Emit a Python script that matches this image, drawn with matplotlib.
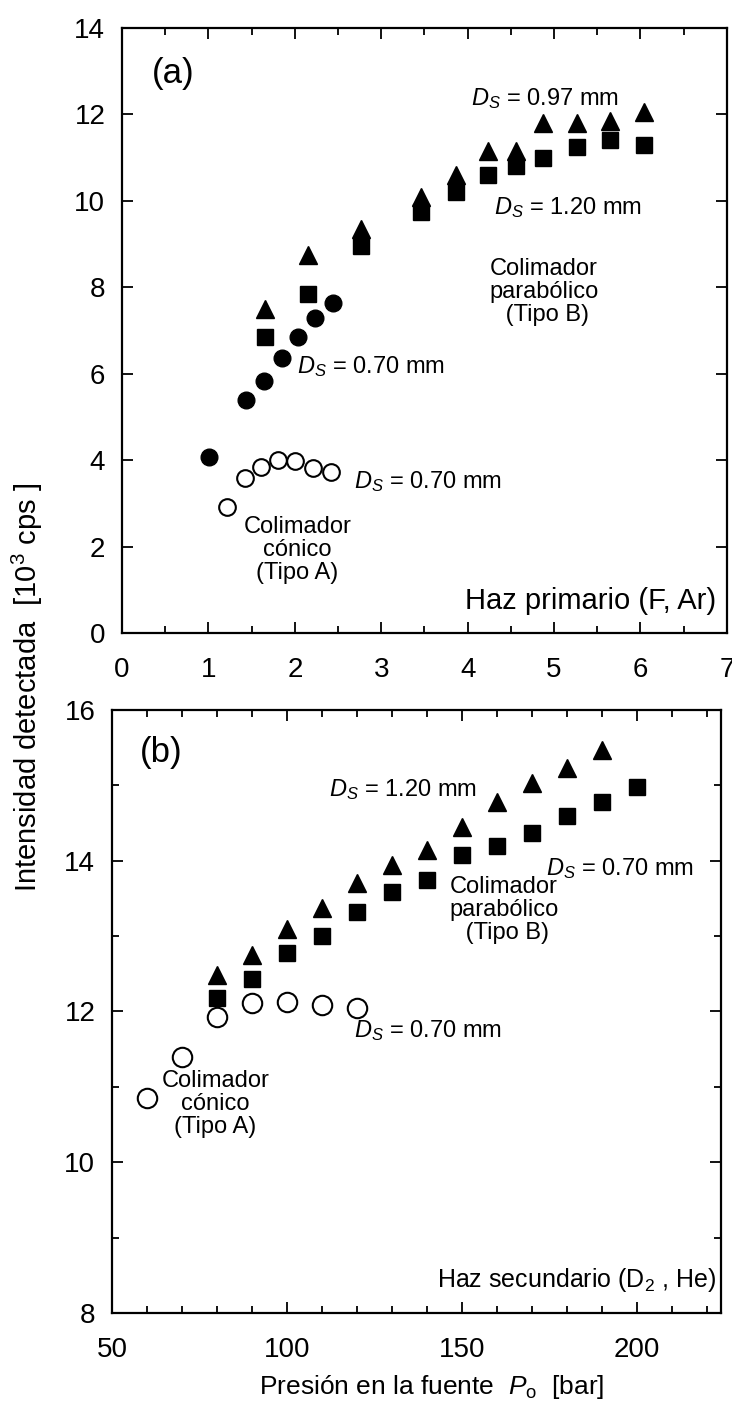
import numpy as np
import matplotlib
matplotlib.use('Agg')
from matplotlib import pyplot as plt
from matplotlib.ticker import MultipleLocator

plt.rcParams['font.family'] = 'Liberation Sans'
plt.rcParams['mathtext.fontset'] = 'custom'
plt.rcParams['mathtext.rm'] = 'Liberation Sans'
plt.rcParams['mathtext.it'] = 'Liberation Sans:italic'

# (a) primary beam (F, Ar)
pa_x = [1.65, 2.15, 2.76, 3.46, 3.86, 4.24, 4.56, 4.87, 5.26, 5.65, 6.04]
pa_097 = [7.50, 8.75, 9.35, 10.10, 10.60, 11.15, 11.15, 11.80, 11.80, 11.85, 12.05]
pa_120 = [6.85, 7.85, 8.95, 9.75, 10.20, 10.60, 10.80, 11.00, 11.25, 11.40, 11.30]
pa_par070_x = [1.01, 1.43, 1.64, 1.85, 2.04, 2.23, 2.44]
pa_par070 = [4.07, 5.40, 5.83, 6.37, 6.85, 7.30, 7.63]
pa_con070_x = [1.21, 1.42, 1.61, 1.81, 2.00, 2.21, 2.42]
pa_con070 = [2.92, 3.59, 3.85, 4.00, 3.98, 3.83, 3.73]

# (b) secondary beam (D2, He)
pb_120_x = [80, 90, 100, 110, 120, 130, 140, 150, 160, 170, 180, 190]
pb_120 = [12.48, 12.75, 13.10, 13.37, 13.70, 13.94, 14.14, 14.45, 14.78, 15.03, 15.23, 15.47]
pb_070_x = [80, 90, 100, 110, 120, 130, 140, 150, 160, 170, 180, 190, 200]
pb_070 = [12.18, 12.43, 12.77, 13.00, 13.32, 13.58, 13.74, 14.07, 14.20, 14.37, 14.60, 14.78, 14.98]
pb_con070_x = [60, 70, 80, 90, 100, 110, 120]
pb_con070 = [10.85, 11.40, 11.93, 12.11, 12.13, 12.08, 12.04]

fig = plt.figure(figsize=(7.32, 14.18), dpi=100)
ax1 = fig.add_axes([0.1667, 0.5536, 0.8263, 0.4266])
ax2 = fig.add_axes([0.1530, 0.0741, 0.8320, 0.4252])

tri = dict(marker='^', ls='none', color='k', ms=13)
sq = dict(marker='s', ls='none', color='k', ms=11)
dot = dict(marker='o', ls='none', color='k', ms=12)
ring = dict(marker='o', ls='none', mfc='white', mec='k', mew=1.5, ms=12)

ax1.plot(pa_x, pa_097, **tri)
ax1.plot(pa_x, pa_120, **sq)
ax1.plot(pa_par070_x, pa_par070, **dot)
ax1.plot(pa_con070_x, pa_con070, **ring)

ax2.plot(pb_120_x, pb_120, **tri)
ax2.plot(pb_070_x, pb_070, **sq)
ax2.plot(pb_con070_x, pb_con070, **dict(ring, ms=14))

ax1.set_xlim(0, 7)
ax1.set_ylim(0, 14)
ax1.xaxis.set_major_locator(MultipleLocator(1))
ax1.xaxis.set_minor_locator(MultipleLocator(0.5))
ax1.yaxis.set_major_locator(MultipleLocator(2))

ax2.set_xlim(50, 224)
ax2.set_ylim(8, 16)
ax2.xaxis.set_major_locator(MultipleLocator(50))
ax2.xaxis.set_minor_locator(MultipleLocator(10))
ax2.yaxis.set_major_locator(MultipleLocator(2))
ax2.yaxis.set_minor_locator(MultipleLocator(1))

for ax in (ax1, ax2):
    for sp in ax.spines.values():
        sp.set_linewidth(1.6)
    ax.tick_params(which='both', direction='in', top=True, right=True, width=1.3)
    ax.tick_params(which='major', length=8, labelsize=20)
    ax.tick_params(which='minor', length=5)
    ax.tick_params(axis='x', pad=17)
    ax.tick_params(axis='y', pad=12)

# labels inside panel (a)
ax1.text(0.35, 12.96, '(a)', fontsize=25, va='center')
ax1.text(4.04, 12.38, '$D_S$ = 0.97 mm', fontsize=17, va='center')
ax1.text(4.30, 9.84, '$D_S$ = 1.20 mm', fontsize=17, va='center')
ax1.text(4.88, 7.89, 'Colimador\nparabólico\n (Tipo B)', fontsize=17, ha='center',
         va='center', linespacing=1.05)
ax1.text(2.02, 6.16, '$D_S$ = 0.70 mm', fontsize=17, va='center')
ax1.text(2.68, 3.50, '$D_S$ = 0.70 mm', fontsize=17, va='center')
ax1.text(2.03, 1.92, 'Colimador\ncónico\n(Tipo A)', fontsize=17, ha='center',
         va='center', linespacing=1.05)
ax1.text(6.88, 0.75, 'Haz primario (F, Ar)', fontsize=21, ha='right', va='center')

# labels inside panel (b)
ax2.text(58, 15.43, '(b)', fontsize=25, va='center')
ax2.text(112, 14.94, '$D_S$ = 1.20 mm', fontsize=17, va='center')
ax2.text(174, 13.90, '$D_S$ = 0.70 mm', fontsize=17, va='center')
ax2.text(162, 13.35, 'Colimador\nparabólico\n (Tipo B)', fontsize=17, ha='center',
         va='center', linespacing=1.05)
ax2.text(119, 11.75, '$D_S$ = 0.70 mm', fontsize=17, va='center')
ax2.text(79.5, 10.77, 'Colimador\ncónico\n(Tipo A)', fontsize=17, ha='center',
         va='center', linespacing=1.05)
ax2.text(222.8, 8.44, 'Haz secundario (D$_2$ , He)', fontsize=18, ha='right', va='center')

fig.text(0.59, 0.022, 'Presión en la fuente  $P_{\\rm o}$  [bar]', fontsize=19,
         ha='center', va='center')
fig.text(0.038, 0.515, 'Intensidad detectada  [10$^3$ cps ]', fontsize=21,
         rotation=90, ha='center', va='center')

fig.savefig('out.png', dpi=100)
